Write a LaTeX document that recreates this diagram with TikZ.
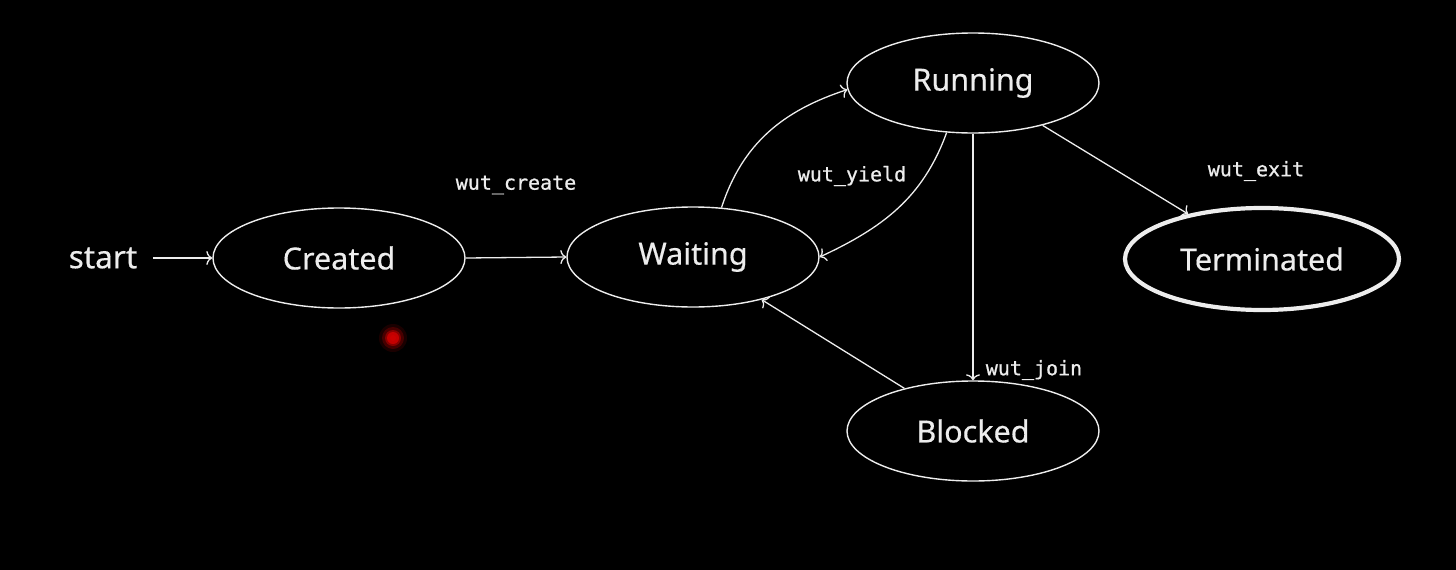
\documentclass[tikz,border=0pt]{standalone}
\usepackage{fontspec}
\setmainfont[FakeBold=0.4]{Noto Sans}
\newfontfamily\labelmono[FakeBold=0.9]{DejaVu Sans Mono}
\usetikzlibrary{shapes.geometric,arrows.meta}
\definecolor{bg}{HTML}{000000}
\definecolor{fg}{HTML}{EDEDED}
\begin{document}
\begin{tikzpicture}[x=1pt,y=1pt,
  state/.style={ellipse,draw=fg,line width=1.4pt,minimum width=252pt,minimum height=100pt,inner sep=0pt,text=fg,font=\fontsize{30.5}{36}\selectfont},
  final/.style={state,line width=4.2pt,minimum width=274pt,minimum height=102pt},
  edgelbl/.style={text=fg,font=\labelmono\fontsize{20}{24}\selectfont},
  trans/.style={draw=fg,line width=1.3pt,-{To[length=6pt,width=14pt]}}
]
\fill[bg] (0,0) rectangle (1456,-570);
\useasboundingbox (0,0) rectangle (1456,-570);

\node[text=fg,font=\fontsize{31.5}{36}\selectfont] (start) at (103,-258) {start};
\node[state] (created) at (339,-258) {\raisebox{-2pt}{Created}};
\node[state] (waiting) at (693,-257) {\raisebox{-2pt}{Waiting}};
\node[state] (running) at (973,-83) {\raisebox{-2pt}{Running}};
\node[final] (terminated) at (1262,-259) {\raisebox{-2pt}{Terminated}};
\node[state] (blocked) at (973,-431) {\raisebox{-2pt}{Blocked}};

\node[edgelbl] (lcreate) at (516,-185) {wut\_create};
\node[edgelbl] (lyield) at (852,-176) {wut\_yield};
\node[edgelbl] (lexit) at (1256,-171) {wut\_exit};
\node[edgelbl] (ljoin) at (1034,-370) {wut\_join};

\coordinate (s0) at ([xshift=12pt]start.east);
\draw[trans] (s0) -- (created.west);
\draw[trans] (created.east) -- (waiting.west);
\draw[trans] (waiting.60) to[out=72,in=198] (running.183);
\draw[trans] (running.242) to[out=250,in=25] (waiting.east);
\draw[trans] (running) -- (terminated);
\draw[trans] (running) -- (blocked);
\draw[trans] (blocked) -- (waiting);

% pointer highlight
\foreach \r/\o in {14/0.10,11/0.2,8/0.35,6/0.5} {\fill[red,opacity=\o] (393,-338) circle (\r);}
\fill[red!80!black] (393,-338) circle (3);
\end{tikzpicture}
\end{document}
